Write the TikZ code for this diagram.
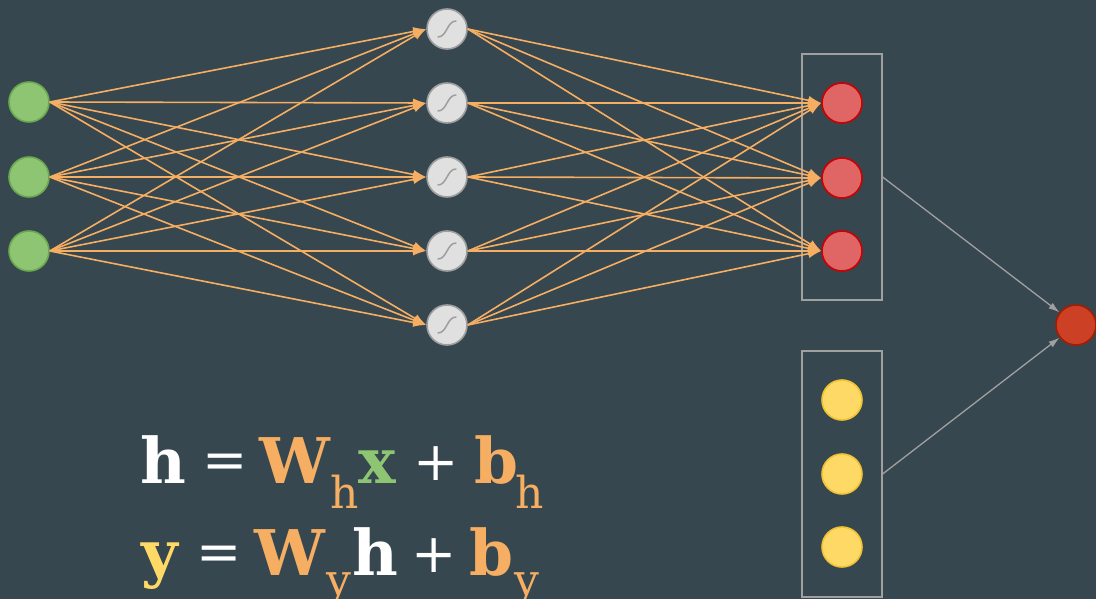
\documentclass[tikz,border=0pt]{standalone}
\usepackage{fontspec}
\setmainfont{DejaVu Serif}
\usetikzlibrary{arrows.meta}
\definecolor{bg}{HTML}{37474F}
\definecolor{edge}{HTML}{F6AE62}
\definecolor{gfill}{HTML}{8DC572}
\definecolor{gdraw}{HTML}{6AA84F}
\definecolor{hfill}{HTML}{E0E0E0}
\definecolor{hdraw}{HTML}{9E9E9E}
\definecolor{rfill}{HTML}{E06666}
\definecolor{rdraw}{HTML}{CC0000}
\definecolor{yfill}{HTML}{FFD966}
\definecolor{ydraw}{HTML}{F1C232}
\definecolor{ofill}{HTML}{CC4125}
\definecolor{odraw}{HTML}{A61C00}
\definecolor{boxc}{HTML}{A0A0A0}
\definecolor{eqorange}{HTML}{F6AE62}
\definecolor{eqgreen}{HTML}{8DC572}
\definecolor{eqyellow}{HTML}{FFD966}
\tikzset{
  neuron/.style={circle, minimum size=40pt, inner sep=0pt, line width=1.6pt},
  innode/.style={neuron, fill=gfill, draw=gdraw},
  hidnode/.style={neuron, fill=hfill, draw=hdraw,
    path picture={\draw[hdraw, line width=1.5pt, line cap=round]
      ([shift={(-9pt,-8pt)}]path picture bounding box.center)
      .. controls ([shift={(0pt,-8pt)}]path picture bounding box.center)
      and ([shift={(0pt,8pt)}]path picture bounding box.center)
      .. ([shift={(9pt,8pt)}]path picture bounding box.center);}},
  rednode/.style={neuron, fill=rfill, draw=rdraw},
  yelnode/.style={neuron, fill=yfill, draw=ydraw},
  finnode/.style={neuron, fill=ofill, draw=odraw},
  layerbox/.style={draw=boxc, line width=1.2pt, minimum width=80pt, minimum height=246pt, inner sep=0pt},
  conn/.style={draw=edge, line width=1.6pt, -{Latex[length=13pt,width=9pt]}},
  grayconn/.style={draw=boxc, line width=1.3pt, -{Latex[length=11pt,width=7pt]}},
  big/.style={anchor=base west, inner sep=0pt, font=\fontsize{63}{63}\selectfont\bfseries},
  op/.style={anchor=center, inner sep=0pt, font=\fontsize{54}{54}\selectfont, text=white},
  sub/.style={anchor=base west, inner sep=0pt, font=\fontsize{44}{44}\selectfont, text=eqorange},
}
\begin{document}
\begin{tikzpicture}[x=1pt,y=-1pt]
\useasboundingbox[fill=bg] (0,0) rectangle (1096,599);
% boxes
\node[layerbox] (box1) at (842,177) {};
\node[layerbox] (box2) at (842,474) {};
% input
\foreach \i/\y in {1/102,2/177,3/251} \node[innode] (in\i) at (29,\y) {};
% hidden
\foreach \j/\y in {1/29,2/103,3/177,4/251,5/325} \node[hidnode] (hd\j) at (447,\y) {};
% output
\foreach \k/\y in {1/103,2/178,3/251} \node[rednode] (ot\k) at (842,\y) {};
\foreach \k/\y in {1/400,2/474,3/547} \node[yelnode] (yl\k) at (842,\y) {};
\node[finnode] (fin) at (1076,325) {};
% connections
\foreach \i in {1,2,3} \foreach \j in {1,...,5} \draw[conn] (in\i.east) -- (hd\j.west);
\foreach \j in {1,...,5} \foreach \k in {1,2,3} \draw[conn] (hd\j.east) -- (ot\k.west);
\draw[grayconn] (box1.east) -- (fin);
\draw[grayconn] (box2.east) -- (fin);
% equation line 1
\node[big, text=white]    (e1h)  at (140,483) {h};
\node[op]                 (e1eq) at (225,466) {=};
\node[big, text=eqorange] (e1W)  at (259,483) {W};
\node[sub]                (e1s1) at (330,508) {h};
\node[big, text=eqgreen]  (e1x)  at (358,483) {x};
\node[op]                 (e1p)  at (436,464) {+};
\node[big, text=eqorange] (e1b)  at (474,483) {b};
\node[sub]                (e1s2) at (515,508) {h};
% equation line 2
\node[big, text=eqyellow] (e2y)  at (141,575) {y};
\node[op]                 (e2eq) at (219,558) {=};
\node[big, text=eqorange] (e2W)  at (254,575) {W};
\node[sub]                (e2s1) at (326,595) {y};
\node[big, text=white]    (e2h)  at (352,575) {h};
\node[op]                 (e2p)  at (434,556) {+};
\node[big, text=eqorange] (e2b)  at (469,575) {b};
\node[sub]                (e2s2) at (514,595) {y};
\end{tikzpicture}
\end{document}
